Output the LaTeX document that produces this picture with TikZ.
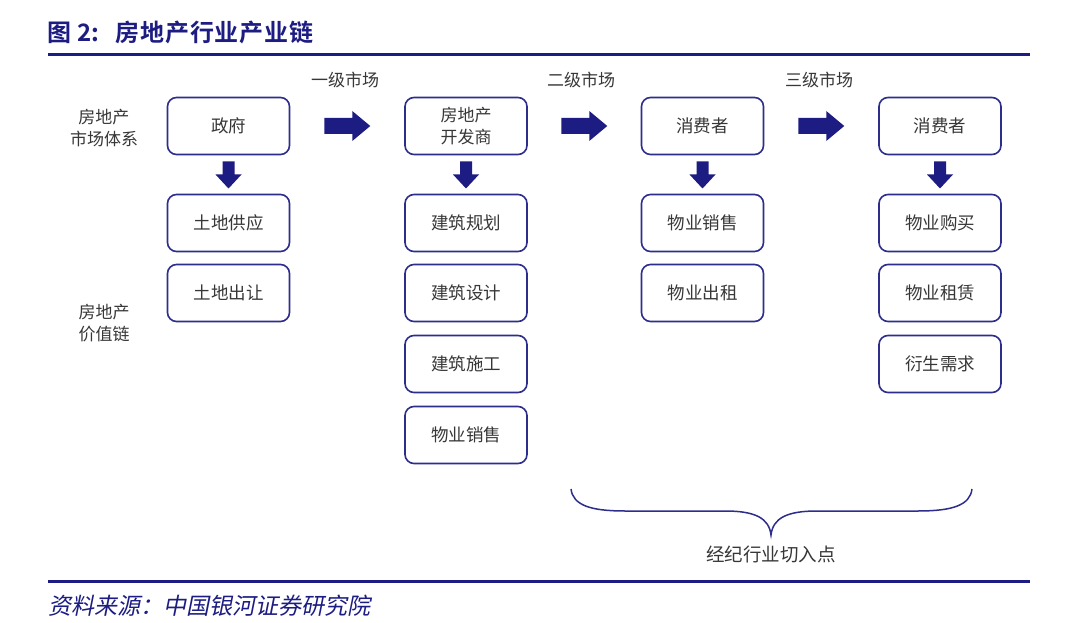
\documentclass[tikz,border=0pt]{standalone}
\usepackage{fontspec}
\usetikzlibrary{calc}
\setmainfont{Noto Sans CJK SC}
\newfontfamily\cjk{Noto Sans CJK SC}
\newfontfamily\cjkb{Noto Sans CJK SC Bold}
\definecolor{navy}{RGB}{28,28,130}
\definecolor{boxline}{RGB}{45,45,140}
\definecolor{txt}{RGB}{55,55,55}
\begin{document}
\begin{tikzpicture}[x=1pt,y=-1pt,
  box/.style={draw=boxline,line width=1.6pt,rounded corners=9pt,minimum width=122pt,minimum height=57pt,inner sep=0pt,font=\cjk\fontsize{17.5}{22}\selectfont,text=txt},
  lbl/.style={font=\cjk\fontsize{17}{22}\selectfont,text=txt,align=center,inner sep=0pt},
  rarrow/.pic={\fill[navy] (-23,-8) -- (5,-8) -- (5,-15) -- (23,0) -- (5,15) -- (5,8) -- (-23,8) -- cycle;},
  darrow/.pic={\fill[navy] (-6,-13) -- (6,-13) -- (6,0) -- (13,0) -- (0,14) -- (-13,0) -- (-6,0) -- cycle;}
]
\useasboundingbox (0,0) rectangle (1080,623);
\fill[white] (0,0) rectangle (1080,623);
% title
\node[anchor=west,inner sep=0pt,text=navy,font=\cjkb\fontsize{24}{26}\selectfont] (title) at (47,32) {图\hspace{6pt}2:\hspace{16pt}\addfontfeature{LetterSpace=4}房地产行业产业链};
\draw[navy,line width=3pt] (48,55) -- (1030,55);
\draw[navy,line width=3pt] (48,581) -- (1030,581);
\node[anchor=west,inner sep=0pt,text=navy,font=\cjk\fontsize{23}{24}\selectfont] (src) at (48,606) {\addfontfeature{FakeSlant=0.2}资料来源：中国银河证券研究院};
% left labels
\node[lbl] (l1) at (104,128) {房地产\\市场体系};
\node[lbl] (l2) at (104,323) {房地产\\价值链};
% market labels
\node[lbl,anchor=west] (m1) at (311,80) {一级市场};
\node[lbl,anchor=west] (m2) at (547,80) {二级市场};
\node[lbl,anchor=west] (m3) at (785,80) {三级市场};
% column 1
\node[box] (a0) at (228.5,126) {政府};
\node[box] (a1) at (228.5,223) {土地供应};
\node[box] (a2) at (228.5,293) {土地出让};
% column 2
\node[box,font=\cjk\fontsize{17}{22}\selectfont,align=center] (b0) at (466,126) {房地产\\开发商};
\node[box] (b1) at (466,223) {建筑规划};
\node[box] (b2) at (466,293) {建筑设计};
\node[box] (b3) at (466,364) {建筑施工};
\node[box] (b4) at (466,435) {物业销售};
% column 3
\node[box] (c0) at (702.5,126) {消费者};
\node[box] (c1) at (702.5,223) {物业销售};
\node[box] (c2) at (702.5,293) {物业出租};
% column 4
\node[box] (d0) at (940,126) {消费者};
\node[box] (d1) at (940,223) {物业购买};
\node[box] (d2) at (940,293) {物业租赁};
\node[box] (d3) at (940,364) {衍生需求};
% arrows
\path ($(a0.east)!0.5!(b0.west)$) pic {rarrow};
\path ($(b0.east)!0.5!(c0.west)$) pic {rarrow};
\path ($(c0.east)!0.5!(d0.west)$) pic {rarrow};
\path ($(a0.south)!0.5!(a1.north)$) pic {darrow};
\path ($(b0.south)!0.5!(b1.north)$) pic {darrow};
\path ($(c0.south)!0.5!(c1.north)$) pic {darrow};
\path ($(d0.south)!0.5!(d1.north)$) pic {darrow};
% brace
\coordinate (bl) at (571,489);
\coordinate (br) at (972,489);
\coordinate (bt) at (771,535);
\draw[boxline,line width=1.5pt] (bl) .. controls (573,505) and (590,511) .. (625,511)
  -- (725,511) .. controls (755,511) and (769,518) .. (bt)
  .. controls (773,518) and (787,511) .. (817,511)
  -- (918,511) .. controls (953,511) and (970,505) .. (br);
\node[lbl,font=\cjk\fontsize{18.5}{22}\selectfont] (cut) at (771,554) {经纪行业切入点};
\end{tikzpicture}
\end{document}
